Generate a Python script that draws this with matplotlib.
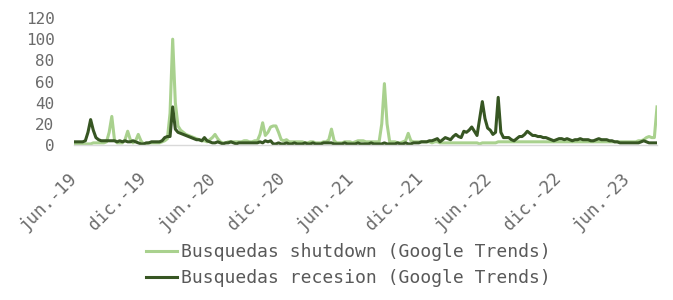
import matplotlib
matplotlib.use("Agg")
import matplotlib.pyplot as plt
import pandas as pd

start_date = "2019-06-02"

shutdown = [
    1, 1, 1, 1, 1, 1, 1, 2, 2, 2, 2, 2, 3, 12, 27, 5, 2, 2, 2, 5,
    13, 5, 2, 4, 10, 4, 1, 1, 2, 2, 2, 2, 2, 3, 4, 6, 30, 100, 40, 18,
    14, 12, 10, 9, 8, 7, 6, 5, 4, 4, 3, 5, 7, 10, 6, 3, 2, 2, 3, 3,
    3, 3, 3, 3, 4, 4, 3, 3, 4, 4, 10, 21, 9, 12, 17, 18, 18, 12, 5, 4,
    5, 3, 3, 3, 3, 3, 3, 2, 2, 3, 3, 2, 2, 2, 3, 3, 5, 15, 4, 2,
    2, 2, 3, 3, 3, 2, 3, 4, 4, 4, 3, 3, 3, 3, 3, 3, 20, 58, 20, 3,
    3, 3, 2, 2, 3, 4, 11, 4, 3, 3, 3, 3, 3, 3, 3, 2, 3, 3, 2, 2,
    2, 2, 2, 2, 2, 2, 2, 2, 2, 2, 2, 2, 2, 1, 2, 2, 2, 2, 2, 2,
    3, 3, 3, 3, 3, 3, 3, 3, 3, 3, 3, 3, 3, 3, 3, 3, 3, 3, 3, 3,
    3, 3, 3, 3, 3, 3, 3, 3, 3, 3, 3, 3, 3, 3, 3, 3, 3, 3, 3, 3,
    3, 3, 3, 3, 3, 3, 3, 3, 3, 3, 3, 3, 3, 4, 4, 5, 7, 8, 7, 7,
    36,
]

recesion = [
    3, 3, 3, 3, 4, 12, 24, 14, 7, 5, 4, 4, 4, 4, 4, 4, 3, 4, 3, 4,
    3, 3, 4, 3, 2, 1, 1, 2, 2, 3, 3, 3, 3, 4, 7, 8, 8, 36, 15, 12,
    11, 10, 9, 8, 7, 6, 5, 5, 4, 7, 4, 3, 2, 2, 3, 2, 1, 2, 2, 3,
    2, 1, 2, 2, 2, 2, 2, 2, 2, 2, 3, 2, 4, 3, 4, 1, 1, 2, 1, 1,
    2, 1, 1, 2, 1, 1, 1, 2, 1, 1, 2, 1, 1, 1, 2, 2, 2, 2, 1, 1,
    1, 1, 2, 1, 1, 1, 1, 2, 1, 1, 1, 1, 2, 1, 1, 1, 1, 2, 1, 1,
    1, 1, 2, 1, 1, 2, 1, 1, 2, 2, 2, 3, 3, 3, 4, 4, 5, 6, 3, 5,
    7, 6, 5, 8, 10, 8, 7, 13, 12, 14, 17, 13, 9, 25, 41, 25, 16, 14, 10, 12,
    45, 12, 7, 7, 7, 5, 4, 6, 8, 8, 10, 13, 11, 9, 9, 8, 8, 7, 7, 6,
    5, 4, 5, 6, 6, 5, 6, 5, 4, 5, 5, 6, 5, 5, 5, 4, 4, 5, 6, 5,
    5, 5, 4, 4, 3, 3, 2, 2, 2, 2, 2, 2, 2, 2, 3, 4, 3, 2, 2, 2,
    2,
]

tick_dates = ["2019-06-01", "2019-12-01", "2020-06-01", "2020-12-01", "2021-06-01",
              "2021-12-01", "2022-06-01", "2022-12-01", "2023-06-01"]
tick_labels = ["jun.-19", "dic.-19", "jun.-20", "dic.-20", "jun.-21",
               "dic.-21", "jun.-22", "dic.-22", "jun.-23"]
y_ticks = [0, 20, 40, 60, 80, 100, 120]

label_shutdown = "Busquedas shutdown (Google Trends)"
label_recesion = "Busquedas recesion (Google Trends)"

dates = pd.date_range(start_date, periods=len(shutdown), freq="W")

plt.rcParams["font.family"] = ["DejaVu Sans Mono"]

fig = plt.figure(figsize=(6.73, 3.0), dpi=100)
ax = fig.add_axes([74 / 673, 1 - 145 / 300, (657 - 74) / 673, (145 - 18) / 300])

l1, = ax.plot(dates, shutdown, color="#A9D18E", lw=2.2, solid_joinstyle="round")
l2, = ax.plot(dates, recesion, color="#375623", lw=2.2, solid_joinstyle="round")

ax.set_ylim(0, 120)
ax.set_xlim(pd.Timestamp(start_date) - pd.Timedelta(days=2), dates[-1])
ax.set_yticks(y_ticks)
ax.set_xticks(pd.to_datetime(tick_dates))
ax.set_xticklabels(tick_labels, rotation=45, ha="right", va="center",
                   rotation_mode="anchor", fontsize=12.5)

for s in ["top", "right", "left"]:
    ax.spines[s].set_visible(False)
ax.spines["bottom"].set_color("#D9D9D9")
ax.spines["bottom"].set_linewidth(1.0)
ax.tick_params(axis="both", length=0, colors="#6b6b6b")
ax.tick_params(axis="y", pad=14, labelsize=11.5)
ax.tick_params(axis="x", pad=22)

fig.legend([l1, l2], [label_shutdown, label_recesion],
           loc="upper left", bbox_to_anchor=(130 / 673, 1 - 227 / 300),
           frameon=False, fontsize=13, handlelength=1.7, handletextpad=0.22,
           labelspacing=0.45, labelcolor="#595959")

fig.savefig("out.png", dpi=100)
